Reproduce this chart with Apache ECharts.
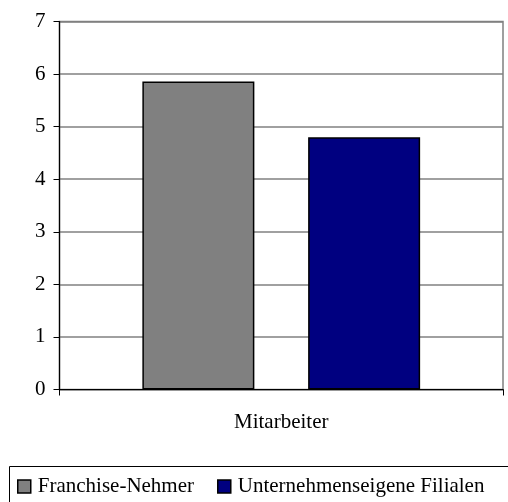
<!DOCTYPE html>
<html>
<head>
<meta charset="utf-8">
<script src="https://cdn.jsdelivr.net/npm/echarts@6/dist/echarts.min.js"></script>
<style>
  html, body { margin: 0; padding: 0; background: #fff; }
  #chart { width: 508px; height: 502px; }
</style>
</head>
<body>
<div id="chart"></div>
<script>
// Average staff per outlet: franchisees vs. company-owned branches
const categories = ['Mitarbeiter'];
const seriesNames = ['Franchise-Nehmer', 'Unternehmenseigene Filialen'];
const franchiseValues = [5.86];
const filialenValues = [4.8];
const yTicks = { min: 0, max: 7, interval: 1 };

const FONT = '"Liberation Serif", "Times New Roman", serif';
const chart = echarts.init(document.getElementById('chart'));

const barStyle = (color) => ({
  color: color,
  borderColor: '#000',
  borderWidth: 1.5
});

chart.setOption({
  animation: false,
  backgroundColor: '#fff',
  textStyle: { fontFamily: FONT, color: '#000' },
  grid: { left: 59.5, right: 5, top: 21.5, bottom: 112.5, show: true, borderColor: '#808080', borderWidth: 1.5 },
  xAxis: {
    type: 'category',
    data: categories,
    boundaryGap: true,
    axisLine: { lineStyle: { color: '#000', width: 1.2 } },
    axisTick: { show: true, length: 6, lineStyle: { color: '#000' } },
    axisLabel: { fontFamily: FONT, fontSize: 21, color: '#000', margin: 22 }
  },
  yAxis: {
    type: 'value',
    min: yTicks.min,
    max: yTicks.max,
    interval: yTicks.interval,
    axisLine: { show: true, lineStyle: { color: '#000', width: 1.2 } },
    axisTick: { show: true, length: 6, lineStyle: { color: '#000' } },
    axisLabel: { fontFamily: FONT, fontSize: 21, color: '#000', margin: 14 },
    splitLine: { show: true, lineStyle: { color: '#808080', width: 1.5 } }
  },
  // frame around the legend, running off the right and bottom edges
  graphic: [{
    type: 'rect',
    shape: { x: 9.5, y: 466.5, width: 520, height: 60 },
    style: { fill: 'none', stroke: '#000', lineWidth: 1 },
    silent: true
  }],
  legend: {
    left: 17,
    top: 476,
    width: 600,
    orient: 'horizontal',
    padding: 0,
    itemWidth: 13,
    itemHeight: 13,
    itemGap: 23,
    icon: 'rect',
    textStyle: { fontFamily: FONT, fontSize: 21, color: '#000', padding: [0, 0, 0, 2] },
    data: seriesNames.map((n) => ({ name: n, itemStyle: { borderColor: '#000', borderWidth: 1.5 } }))
  },
  series: [
    {
      name: seriesNames[0],
      type: 'bar',
      data: franchiseValues,
      barWidth: 112,
      barGap: '48%',
      itemStyle: barStyle('#808080')
    },
    {
      name: seriesNames[1],
      type: 'bar',
      data: filialenValues,
      barWidth: 112,
      itemStyle: barStyle('#000080')
    }
  ]
});
</script>
</body>
</html>
